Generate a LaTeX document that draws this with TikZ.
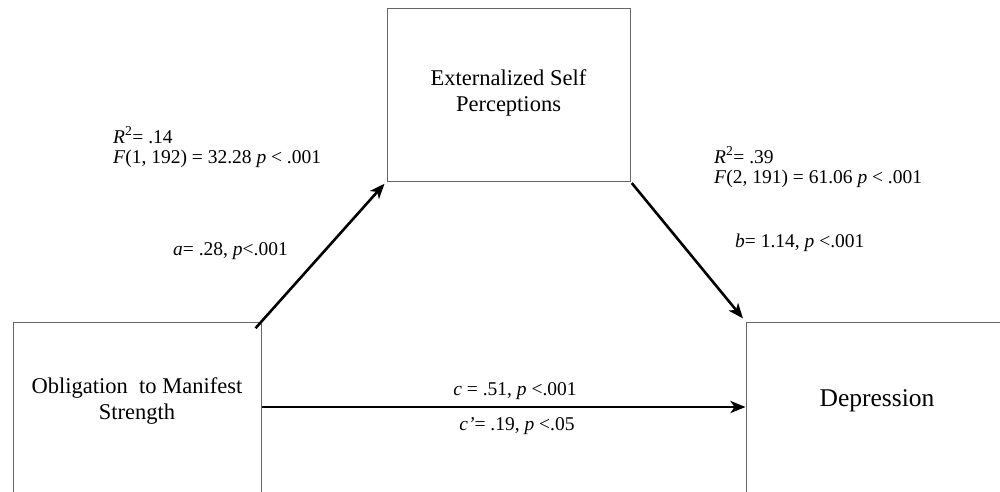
\documentclass[tikz,border=0pt]{standalone}
\usepackage{fontspec}
\setmainfont{Liberation Serif}
\usetikzlibrary{arrows.meta}
\begin{document}
\begin{tikzpicture}[x=1pt,y=-1pt,
  box/.style={draw=black!60,line width=1pt,inner sep=0pt},
  boxtext/.style={align=center,inner sep=0pt,font=\fontsize{22.5}{26}\selectfont},
  stat/.style={anchor=base west,align=left,inner sep=0pt,font=\fontsize{19.5}{20}\selectfont},
  conn/.style={line width=2.6pt,-{Stealth[length=15pt,width=12pt,inset=4pt]}}]
\path[use as bounding box,clip] (0,0) rectangle (1000,491);
% boxes
\node[box,minimum width=243pt,minimum height=173pt,
  label={[boxtext,yshift=1.5pt]center:Externalized Self\\Perceptions}] (ext) at (508.5,94.5) {};
\node[box,minimum width=248pt,minimum height=170pt,
  label={[boxtext,yshift=6pt]center:Obligation\ \ to Manifest\\Strength}] (obl) at (137,407) {};
\node[box,minimum width=262pt,minimum height=170pt,
  label={[boxtext,font=\fontsize{25.5}{27}\selectfont,yshift=6pt]center:Depression}] (dep) at (877,407) {};
% paths
\draw[conn,shorten <=-9pt,shorten >=3pt] (obl.north east) -- (ext.south west);
\draw[conn,shorten <=2pt,shorten >=4pt] (ext.south east) -- (dep.north west);
\draw[conn] (obl.east) -- (dep.west);
% statistics
\node[stat] (fitl) at (113,163) {\textit{R}\textsuperscript{2}= .14\\\textit{F}(1, 192) = 32.28 \textit{p} < .001};
\node[stat] (fitr) at (714,183) {\textit{R}\textsuperscript{2}= .39\\\textit{F}(2, 191) = 61.06 \textit{p} < .001};
\node[stat] (pa) at (173,255) {\textit{a}= .28, \textit{p}<.001};
\node[stat] (pb) at (735,247) {\textit{b}= 1.14, \textit{p} <.001};
\node[stat,anchor=base] (pc) at (515,395) {\textit{c} = .51, \textit{p} <.001};
\node[stat,anchor=base] (pcp) at (517,430) {\textit{c'}= .19, \textit{p} <.05};
\end{tikzpicture}
\end{document}
